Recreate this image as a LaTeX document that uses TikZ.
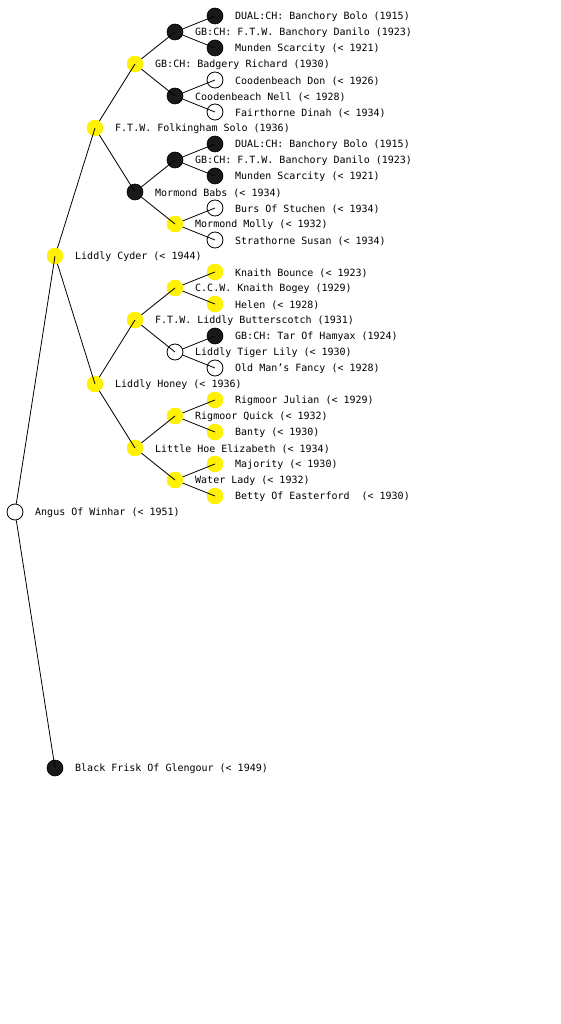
\documentclass[tikz,border=0pt]{standalone}
\usepackage{fontspec}
\setmonofont{DejaVu Sans Mono}
\begin{document}
\begin{tikzpicture}[x=1pt,y=-1pt,
  every node/.style={inner sep=0pt},
  dot/.style={circle,minimum size=16pt},
  blk/.style={dot,fill=black!90,draw=black,line width=0.6pt},
  ylw/.style={dot,fill=yellow,draw=yellow,line width=0.6pt},
  opn/.style={dot,draw=black,line width=0.8pt},
  lbl/.style={anchor=west,yshift=-1pt,font=\ttfamily\fontsize{10}{12}\selectfont},
  edge/.style={draw=black,line width=0.8pt}]
\useasboundingbox (0,0) rectangle (560,1024);
\fill[white] (0,0) rectangle (560,1024);
% level 0
\node[opn] (a) at (15,512) {};
\node[lbl] (ta) at (35,512) {Angus Of Winhar (< 1951)};
% level 1
\node[ylw] (b1) at (55,256) {};
\node[lbl] (tb1) at (75,256) {Liddly Cyder (< 1944)};
\node[blk] (b2) at (55,768) {};
\node[lbl] (tb2) at (75,768) {Black Frisk Of Glengour (< 1949)};
% level 2
\node[ylw] (c1) at (95,128) {};
\node[lbl] (tc1) at (115,128) {F.T.W. Folkingham Solo (1936)};
\node[ylw] (c2) at (95,384) {};
\node[lbl] (tc2) at (115,384) {Liddly Honey (< 1936)};
% level 3
\node[ylw] (d1) at (135,64) {};
\node[lbl] (td1) at (155,64) {GB:CH: Badgery Richard (1930)};
\node[blk] (d2) at (135,192) {};
\node[lbl] (td2) at (155,192) {Mormond Babs (< 1934)};
\node[ylw] (d3) at (135,320) {};
\node[lbl] (td3) at (155,320) {F.T.W. Liddly Butterscotch (1931)};
\node[ylw] (d4) at (135,448) {};
\node[lbl] (td4) at (155,448) {Little Hoe Elizabeth (< 1934)};
% level 4
\node[blk] (e1) at (175,32) {};
\node[lbl] (te1) at (195,32) {GB:CH: F.T.W. Banchory Danilo (1923)};
\node[blk] (e2) at (175,96) {};
\node[lbl] (te2) at (195,96) {Coodenbeach Nell (< 1928)};
\node[blk] (e3) at (175,160) {};
\node[lbl] (te3) at (195,160) {GB:CH: F.T.W. Banchory Danilo (1923)};
\node[ylw] (e4) at (175,224) {};
\node[lbl] (te4) at (195,224) {Mormond Molly (< 1932)};
\node[ylw] (e5) at (175,288) {};
\node[lbl] (te5) at (195,288) {C.C.W. Knaith Bogey (1929)};
\node[opn] (e6) at (175,352) {};
\node[lbl] (te6) at (195,352) {Liddly Tiger Lily (< 1930)};
\node[ylw] (e7) at (175,416) {};
\node[lbl] (te7) at (195,416) {Rigmoor Quick (< 1932)};
\node[ylw] (e8) at (175,480) {};
\node[lbl] (te8) at (195,480) {Water Lady (< 1932)};
% level 5
\node[blk] (f1) at (215,16) {};
\node[lbl] (tf1) at (235,16) {DUAL:CH: Banchory Bolo (1915)};
\node[blk] (f2) at (215,48) {};
\node[lbl] (tf2) at (235,48) {Munden Scarcity (< 1921)};
\node[opn] (f3) at (215,80) {};
\node[lbl] (tf3) at (235,80) {Coodenbeach Don (< 1926)};
\node[opn] (f4) at (215,112) {};
\node[lbl] (tf4) at (235,112) {Fairthorne Dinah (< 1934)};
\node[blk] (f5) at (215,144) {};
\node[lbl] (tf5) at (235,144) {DUAL:CH: Banchory Bolo (1915)};
\node[blk] (f6) at (215,176) {};
\node[lbl] (tf6) at (235,176) {Munden Scarcity (< 1921)};
\node[opn] (f7) at (215,208) {};
\node[lbl] (tf7) at (235,208) {Burs Of Stuchen (< 1934)};
\node[opn] (f8) at (215,240) {};
\node[lbl] (tf8) at (235,240) {Strathorne Susan (< 1934)};
\node[ylw] (f9) at (215,272) {};
\node[lbl] (tf9) at (235,272) {Knaith Bounce (< 1923)};
\node[ylw] (f10) at (215,304) {};
\node[lbl] (tf10) at (235,304) {Helen (< 1928)};
\node[blk] (f11) at (215,336) {};
\node[lbl] (tf11) at (235,336) {GB:CH: Tar Of Hamyax (1924)};
\node[opn] (f12) at (215,368) {};
\node[lbl] (tf12) at (235,368) {Old Man’s Fancy (< 1928)};
\node[ylw] (f13) at (215,400) {};
\node[lbl] (tf13) at (235,400) {Rigmoor Julian (< 1929)};
\node[ylw] (f14) at (215,432) {};
\node[lbl] (tf14) at (235,432) {Banty (< 1930)};
\node[ylw] (f15) at (215,464) {};
\node[lbl] (tf15) at (235,464) {Majority (< 1930)};
\node[ylw] (f16) at (215,496) {};
\node[lbl] (tf16) at (235,496) {Betty Of Easterford\ \ (< 1930)};
% connectors
\draw[edge] (a) -- (b1.center);
\draw[edge] (a) -- (b2.center);
\draw[edge] (b1) -- (c1.center);
\draw[edge] (b1) -- (c2.center);
\draw[edge] (c1) -- (d1.center);
\draw[edge] (c1) -- (d2.center);
\draw[edge] (c2) -- (d3.center);
\draw[edge] (c2) -- (d4.center);
\draw[edge] (d1) -- (e1.center);
\draw[edge] (d1) -- (e2.center);
\draw[edge] (d2) -- (e3.center);
\draw[edge] (d2) -- (e4.center);
\draw[edge] (d3) -- (e5.center);
\draw[edge] (d3) -- (e6.center);
\draw[edge] (d4) -- (e7.center);
\draw[edge] (d4) -- (e8.center);
\draw[edge] (e1) -- (f1.center);
\draw[edge] (e1) -- (f2.center);
\draw[edge] (e2) -- (f3.center);
\draw[edge] (e2) -- (f4.center);
\draw[edge] (e3) -- (f5.center);
\draw[edge] (e3) -- (f6.center);
\draw[edge] (e4) -- (f7.center);
\draw[edge] (e4) -- (f8.center);
\draw[edge] (e5) -- (f9.center);
\draw[edge] (e5) -- (f10.center);
\draw[edge] (e6) -- (f11.center);
\draw[edge] (e6) -- (f12.center);
\draw[edge] (e7) -- (f13.center);
\draw[edge] (e7) -- (f14.center);
\draw[edge] (e8) -- (f15.center);
\draw[edge] (e8) -- (f16.center);
\end{tikzpicture}
\end{document}
